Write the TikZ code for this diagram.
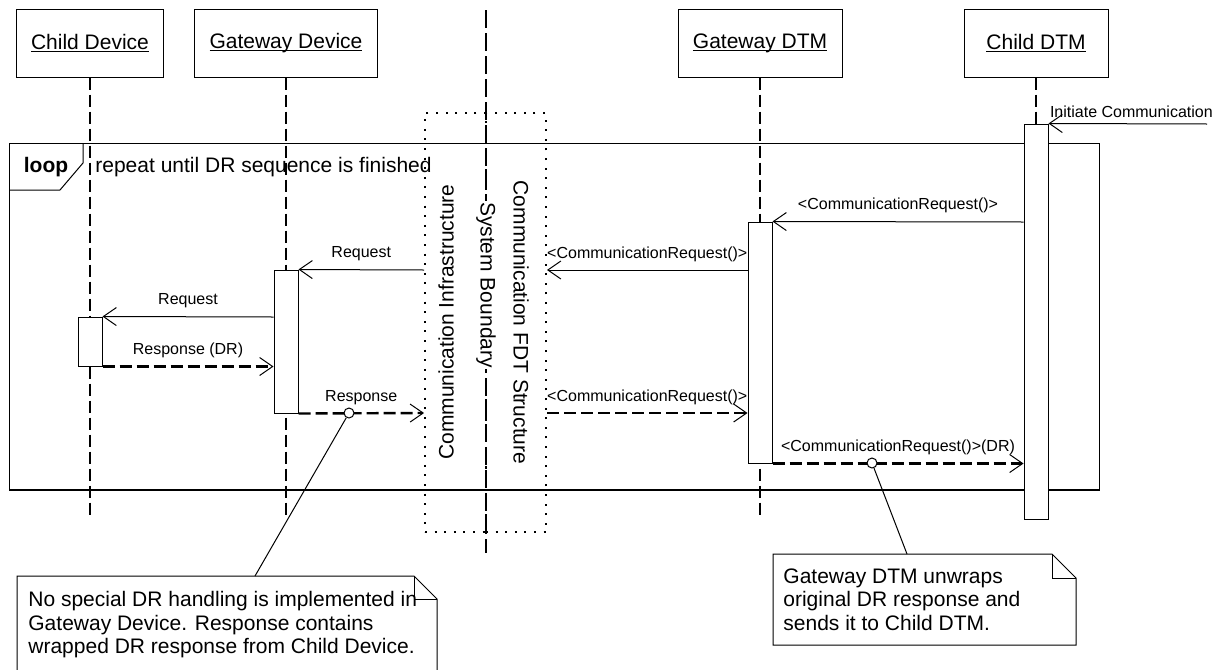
\documentclass[tikz,border=0pt]{standalone}
\usepackage{fontspec}
\setmainfont{Liberation Sans}
\usetikzlibrary{arrows.meta}
% underline that sits just below the baseline, crossing descenders
\newcommand{\ulname}[1]{\setbox0=\hbox{#1}\rlap{\rule[-1.2pt]{\wd0}{0.5pt}}\box0}

\begin{document}
\begin{tikzpicture}[x=0.5pt, y=-0.5pt,
  big/.style={font=\fontsize{10.5pt}{11.75pt}\selectfont},
  small/.style={font=\fontsize{8pt}{9.6pt}\selectfont},
  head/.style={draw, line width=0.5pt, minimum height=34pt, inner sep=0pt, big},
  lifeline/.style={line width=1.2pt, dash pattern=on 6pt off 2.5pt},
  act/.style={draw, fill=white, line width=0.5pt, minimum width=12pt, inner sep=0pt},
  msg/.style={line width=0.5pt, -{Straight Barb[length=6.5pt,width=9pt,line width=0.5pt]}},
  reply/.style={line width=1.2pt, dash pattern=on 6pt off 2.5pt, -{Straight Barb[length=6.5pt,width=9pt,line width=0.5pt]}},
  lbl/.style={small, midway, yshift=8pt, inner sep=0pt},
  dotbox/.style={draw, line width=1pt, dash pattern=on 1pt off 3.8pt, minimum height=209.5pt, inner sep=0pt},
  boundary/.style={line width=1.4pt, dash pattern=on 9pt off 2.5pt},
  notebox/.style={line width=0.5pt, fill=white},
  notetext/.style={big, align=left, anchor=north west, inner sep=0pt},
  dot/.style={circle, draw, fill=white, line width=0.5pt, minimum size=5pt, inner sep=0pt},
]
\useasboundingbox (0,0) rectangle (1218,669);
\clip (0,0) rectangle (1218,669);

% loop combined fragment
\coordinate (fTL) at (9,143);
\coordinate (fBR) at (1099,490);
\draw[line width=0.5pt] (fTL) rectangle (fBR);
\draw[line width=1.2pt] (fTL |- fBR) -- (fBR);
\draw[line width=0.5pt] (9,190) -- (60,190) -- (83,163) -- (83,143);
\node[font=\fontsize{10.5pt}{11.75pt}\selectfont\bfseries, inner sep=0pt] (loopT) at (46,167.5) {loop};
\node[big, anchor=west, inner sep=0pt] (guard) at (95,167.5) {repeat until DR sequence is finished};

% lifeline heads
\node[head, minimum width=73.5pt] (cd) at (90,43) {\ulname{Child Device}};
\node[head, minimum width=91.5pt] (gd) at (286,43) {\ulname{Gateway Device}};
\node[head, minimum width=82pt] (gdtm) at (760,43) {\ulname{Gateway DTM}};
\node[head, minimum width=72pt] (cdtm) at (1036,43) {\ulname{Child DTM}};

% lifelines
\draw[lifeline] (cd.south) -- ++(0,441);
\draw[lifeline] (gd.south) -- ++(0,441);
\draw[lifeline] (gdtm.south) -- ++(0,441);
\draw[lifeline] (cdtm.south) -- ++(0,100);

% communication regions and system boundary
\node[dotbox, minimum width=30.5pt] (ci) at (455.5,322.5) {};
\node[dotbox, minimum width=30pt] (cfs) at (516,322.5) {};
\node[big, rotate=90, inner sep=0pt] (ciT) at (446,322) {Communication Infrastructure};
\node[big, rotate=-90, inner sep=0pt] (cfsT) at (521,322.5) {Communication FDT Structure};
\coordinate (sbTop) at (486,10);
\coordinate (sbBot) at (486,553);
\draw[boundary] (sbTop) -- (sbBot);
\node[big, rotate=-90, fill=white, inner sep=0.5pt] (sb) at (486,285) {System Boundary};

% activations
\node[act, minimum height=24.5pt] (a1) at (90,341.5) {};
\node[act, minimum height=71.5pt] (a2) at (286,341.5) {};
\node[act, minimum height=120.5pt] (a3) at (760,342.5) {};
\node[act, minimum height=197.5pt] (a4) at (1036,321.5) {};

% message levels
\coordinate (yA) at (0,222);
\coordinate (yB) at (0,270);
\coordinate (yC) at (0,317);
\coordinate (yE) at (0,413);
\coordinate (initStart) at (1207,124);

% messages
\draw[msg] (initStart) -- (a4.north east)
  node[small, pos=1, anchor=south west, inner sep=0pt, xshift=0.5pt, yshift=2.6pt] (initL) {Initiate Communication};
\draw[msg] (a4.west |- yA) -- (a3.north east) node[lbl] {<CommunicationRequest()>};
\draw[msg] (ci.west |- yB) -- (a2.north east) node[lbl] {Request};
\draw[msg] (a3.west |- yB) -- (cfs.east |- yB) node[lbl] {<CommunicationRequest()>};
\draw[msg] (a2.west |- yC) -- (a1.north east) node[lbl] {Request};
\draw[reply] (a1.south east) -- (a2.west |- a1.south east) node[lbl] {Response (DR)};
\draw[reply] (a2.south east) -- (ci.west |- yE) node[lbl] {Response};
\draw[reply] (cfs.east |- yE) -- (a3.west |- yE) node[lbl] {<CommunicationRequest()>};
\draw[reply] (a3.south east) -- (a4.west |- a3.south east) node[lbl] {<CommunicationRequest()>(DR)};

% note anchors on messages
\node[dot] (c1) at (349,413) {};
\node[dot] (c2) at (872,463) {};

% notes
\draw[notebox] (17,672) -- (17,576) -- (414,576) -- (437,599) -- (437,672);
\draw[line width=0.5pt] (414,576) -- (414,599) -- (437,599);
\node[notetext] (n1) at (28,591) {No special DR handling is implemented in\\Gateway Device. Response contains\\wrapped DR response from Child Device.};
\coordinate (n1top) at (255,576);

\draw[notebox] (773,554) -- (1052,554) -- (1076,578) -- (1076,645) -- (773,645) -- cycle;
\draw[line width=0.5pt] (1052,554) -- (1052,578) -- (1076,578);
\node[notetext] (n2) at (783,568) {Gateway DTM unwraps\\original DR response and\\sends it to Child DTM.};
\coordinate (n2top) at (907,554);

% note connectors
\draw[line width=0.5pt] (c1) -- (n1top);
\draw[line width=0.5pt] (c2) -- (n2top);
\end{tikzpicture}
\end{document}
